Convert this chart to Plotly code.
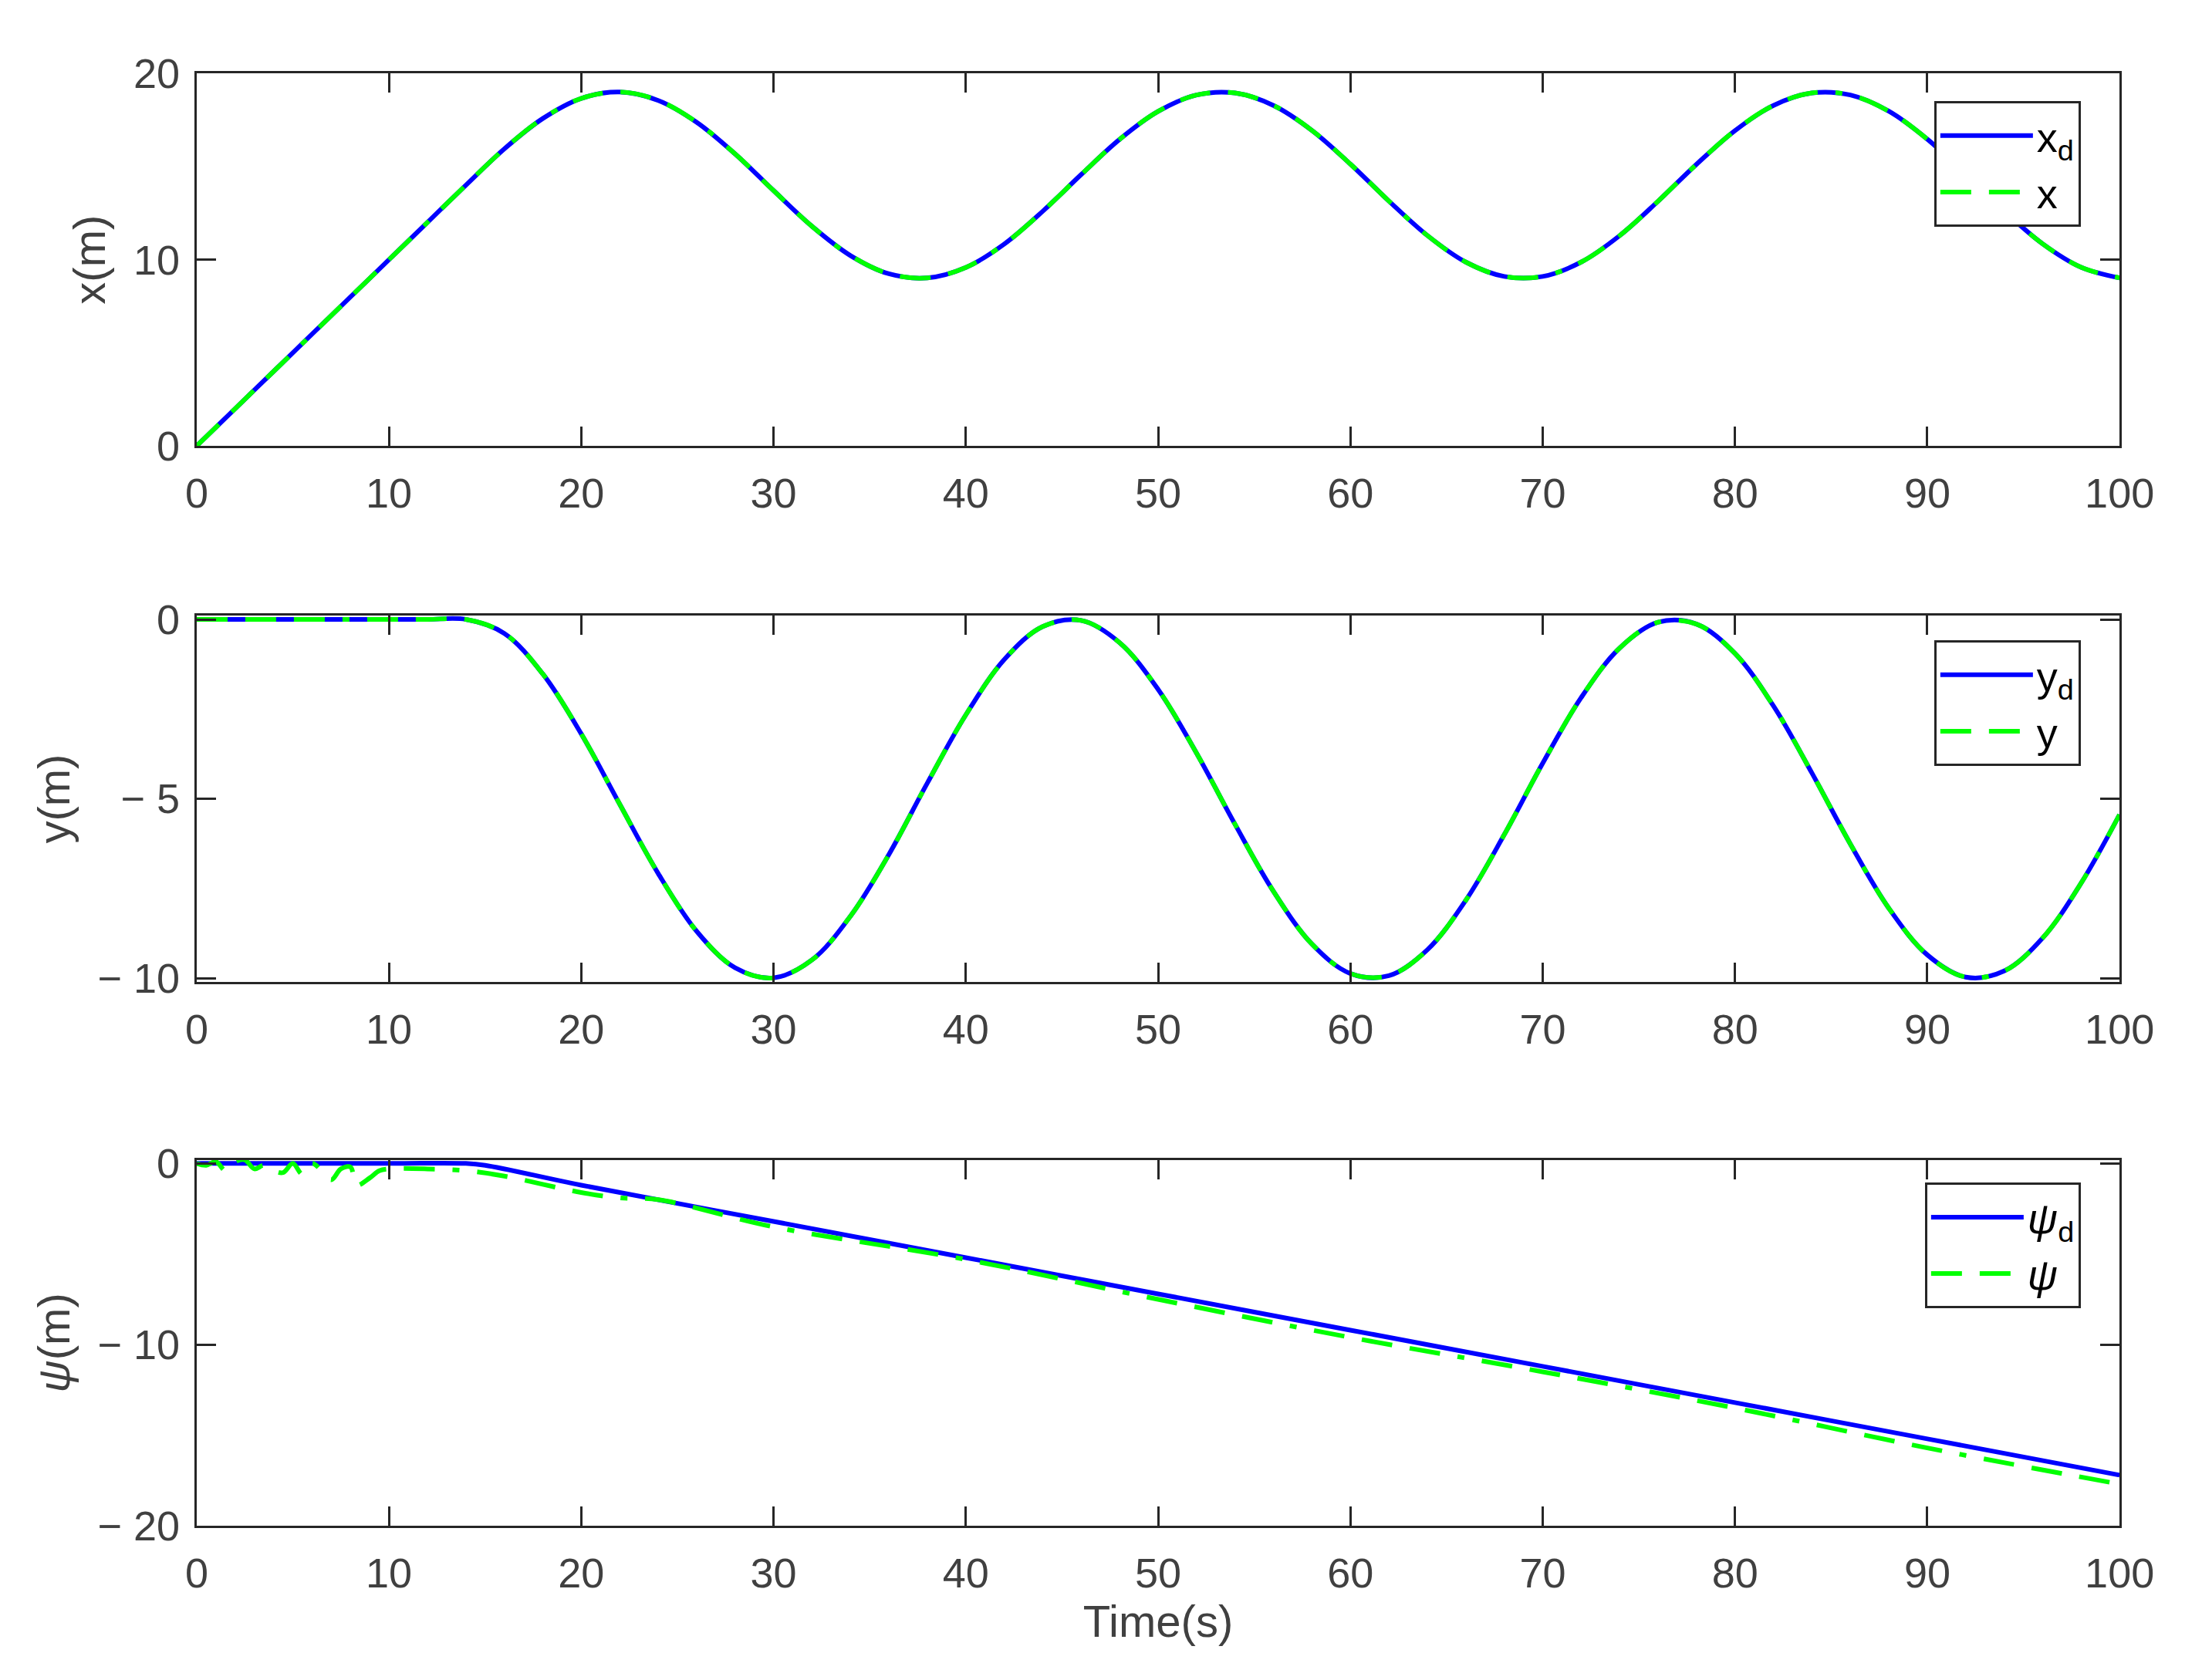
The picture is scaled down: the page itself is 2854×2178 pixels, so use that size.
import plotly.graph_objects as go
from plotly.subplots import make_subplots

# ---- data --------------------------------------------------------------
t = list(range(0, 101, 2))
x_d = [0, 2, 4, 6, 8, 10, 12, 14, 15.95, 17.58, 18.66, 19.0, 18.55, 17.38, 15.68,
       13.71, 11.79, 10.22, 9.24, 9.02, 9.58, 10.84, 12.60, 14.57, 16.46, 17.96,
       18.84, 18.95, 18.28, 16.94, 15.13, 13.15, 11.30, 9.87, 9.10, 9.10, 9.87,
       11.29, 13.14, 15.12, 16.93, 18.28, 18.95, 18.84, 17.97, 16.47, 14.58,
       12.61, 10.85, 9.59, 9.02]
x_act = x_d
y_d = [0, 0, 0, 0, 0, 0, 0, 0, -0.39, -1.52, -3.19, -5.15, -7.08, -8.69, -9.71,
       -9.99, -9.49, -8.27, -6.55, -4.56, -2.66, -1.12, -0.20, -0.03, -0.65, -1.95,
       -3.73, -5.71, -7.58, -9.05, -9.87, -9.93, -9.21, -7.83, -6.00, -4.01, -2.18,
       -0.80, -0.08, -0.13, -0.95, -2.41, -4.28, -6.26, -8.05, -9.35, -9.97,
       -9.80, -8.88, -7.35, -5.44]
y_act = y_d
t_psid = [0, 10, 14, 15, 20, 30, 40, 50, 60, 70, 80, 90, 100]
psi_d = [0, 0, 0, -0.1, -1.2, -3.2, -5.2, -7.2, -9.2, -11.2, -13.2, -15.2, -17.2]
t_psi = [0, 0.5, 1, 1.5, 2, 2.5, 3, 3.5, 4, 4.5, 5, 5.5, 6, 6.5, 7, 7.5, 8, 8.3,
         9, 9.5, 10, 12, 14, 16, 20, 22, 24, 30, 40, 50, 60, 70, 80, 90, 100]
psi = [0, -0.1, 0.1, -0.4, 0.1, 0.2, -0.3, -0.1, -0.4, -0.5, 0.0, -0.6, 0.0, -0.4,
       -0.9, -0.3, -0.2, -1.2, -0.8, -0.4, -0.3, -0.3, -0.4, -0.7, -1.6, -1.9,
       -2.0, -3.5, -5.3, -7.5, -9.6, -11.5, -13.5, -15.7, -17.7]

panels = [
    (t, x_d, t, x_act, "x<sub>d</sub>", "x", "x(m)", [0, 10, 20], ["0", "10", "20"], [0, 20]),
    (t, y_d, t, y_act, "y<sub>d</sub>", "y", "y(m)", [-10, -5, 0], ["\u2212 10", "\u2212 5", "0"], [-10.1, 0.1]),
    (t_psid, psi_d, t_psi, psi, "<i>\u03c8</i><sub>d</sub>", "<i>\u03c8</i>", "<i>\u03c8</i>(m)",
     [-20, -10, 0], ["\u2212 20", "\u2212 10", "0"], [-20, 0.2]),
]

fig = make_subplots(rows=3, cols=1)
ydoms = [[0.745, 0.973], [0.417, 0.641], [0.084, 0.308]]
legtops = [0.956, 0.626, 0.294]
font = "Liberation Sans, Arial, sans-serif"

for i, (td, yd, ta, ya, nd, na, ylab, tv, tt, rng) in enumerate(panels):
    leg = "legend" if i == 0 else f"legend{i + 1}"
    fig.add_trace(go.Scatter(x=td, y=yd, mode="lines", name=nd, legend=leg,
                             line=dict(color="#0000ff", width=6, shape="spline")),
                  row=i + 1, col=1)
    fig.add_trace(go.Scatter(x=ta, y=ya, mode="lines", name=na, legend=leg,
                             line=dict(color="#00ff00", width=6, shape="spline",
                                       dash="40px,23px,40px,23px,40px,23px,9px,23px")),
                  row=i + 1, col=1)
    ax = dict(showline=True, linecolor="#262626", linewidth=3, mirror="ticks",
              ticks="inside", ticklen=25, tickwidth=3, tickcolor="#262626",
              showgrid=False, zeroline=False,
              tickfont=dict(family=font, size=54, color="#404040"))
    fig.update_xaxes(ax, range=[0, 100], dtick=10, domain=[0.083, 0.975],
                     ticklabelstandoff=12, row=i + 1, col=1)
    fig.update_yaxes(ax, range=rng, tickvals=tv, ticktext=tt, domain=ydoms[i],
                     ticklabelstandoff=8,
                     title=dict(text=ylab, font=dict(family=font, size=58, color="#404040"),
                                standoff=18),
                     row=i + 1, col=1)
    fig.update_layout({leg: dict(x=0.957, y=legtops[i], xanchor="right", yanchor="top",
                                 bgcolor="white", bordercolor="#262626", borderwidth=3,
                                 font=dict(family=font, size=54, color="black"),
                                 tracegroupgap=0, itemwidth=120)})

fig.update_xaxes(title=dict(text="Time(s)", font=dict(family=font, size=58, color="#404040"),
                            standoff=8), row=3, col=1)
fig.update_layout(width=2854, height=2178, plot_bgcolor="white", paper_bgcolor="white",
                  margin=dict(l=0, r=0, t=0, b=0), showlegend=True)

fig.write_html("out.html")
